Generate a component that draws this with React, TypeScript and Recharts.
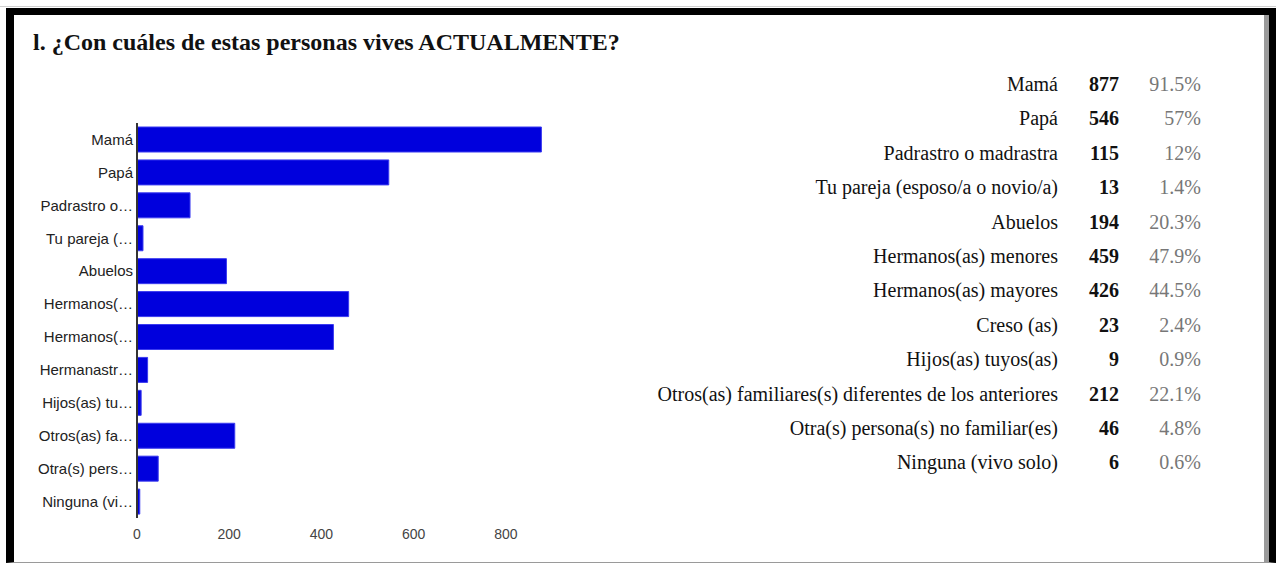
import React from 'react';
import { BarChart, Bar, XAxis, YAxis } from 'recharts';

// labels as the chart shows them (cut off), then the full ones of the table
const barLabels = [
    'Mamá', 'Papá', 'Padrastro o…', 'Tu pareja (…', 'Abuelos', 'Hermanos(…',
    'Hermanos(…', 'Hermanastr…', 'Hijos(as) tu…', 'Otros(as) fa…', 'Otra(s) pers…', 'Ninguna (vi…'
];

const tableLabels = [
    'Mamá', 'Papá', 'Padrastro o madrastra', 'Tu pareja (esposo/a o novio/a)', 'Abuelos',
    'Hermanos(as) menores', 'Hermanos(as) mayores', 'Creso (as)', 'Hijos(as) tuyos(as)',
    'Otros(as) familiares(s) diferentes de los anteriores', 'Otra(s) persona(s) no familiar(es)',
    'Ninguna (vivo solo)'
];

const counts = [877, 546, 115, 13, 194, 459, 426, 23, 9, 212, 46, 6];

const percents = ['91.5%', '57%', '12%', '1.4%', '20.3%', '47.9%', '44.5%', '2.4%', '0.9%', '22.1%', '4.8%', '0.6%'];

const xTicks = [0, 200, 400, 600, 800];

const chartData = barLabels.map((label, i) => ({ label, value: counts[i] }));

const SERIF = '"Liberation Serif", "Times New Roman", serif';
const SANS = '"Liberation Sans", Arial, sans-serif';

export default function App() {
    return (
        <div style={{ position: 'fixed', left: 0, top: 0, width: 1276, height: 565, background: '#fff', overflow: 'hidden' }}>
            {/* frame */}
            <div style={{ position: 'absolute', left: 0, top: 6, width: 1276, height: 1, background: '#d0d0d0' }} />
            <div
                style={{
                    position: 'absolute', left: 6, top: 8, width: 1270, height: 555, boxSizing: 'border-box',
                    borderLeft: '8px solid #000', borderTop: '7px solid #000', borderRight: '7px solid #000',
                    borderBottom: '1px solid #9a9a9a'
                }}
            />
            <div style={{ position: 'absolute', left: 1264, top: 15, width: 5, height: 548, background: '#9a9a9a' }} />

            <div style={{ position: 'absolute', left: 33, top: 29, fontFamily: SERIF, fontWeight: 'bold', fontSize: 24, color: '#111', whiteSpace: 'nowrap' }}>
                l. ¿Con cuáles de estas personas vives ACTUALMENTE?
            </div>

            <div style={{ position: 'absolute', left: 0, top: 0 }}>
                <BarChart
                    width={600}
                    height={560}
                    data={chartData}
                    layout="vertical"
                    margin={{ top: 123, right: 48, bottom: 12, left: 0 }}
                >
                    <XAxis
                        type="number"
                        domain={[0, 900]}
                        ticks={xTicks}
                        axisLine={false}
                        tickLine={false}
                        tickSize={6}
                        tickMargin={5}
                        height={30}
                        tick={{ fontSize: 14, fill: '#444', fontFamily: SANS }}
                    />
                    <YAxis
                        type="category"
                        dataKey="label"
                        width={137}
                        axisLine={{ stroke: '#333', strokeWidth: 2 }}
                        tickLine={false}
                        tickSize={0}
                        tickMargin={4}
                        interval={0}
                        tick={{ fontSize: 15, fill: '#222', fontFamily: SANS }}
                    />
                    <Bar dataKey="value" fill="#0000dd" stroke="#3b3bf0" strokeWidth={1} barSize={25} isAnimationActive={false} />
                </BarChart>
            </div>

            {/* table at right */}
            <div style={{ position: 'absolute', left: 600, top: 67, fontFamily: SERIF, fontSize: 20 }}>
                {tableLabels.map((label, i) => (
                    <div key={label} style={{ display: 'flex', height: 34.4, lineHeight: '34.4px', whiteSpace: 'nowrap' }}>
                        <div style={{ width: 458, textAlign: 'right', color: '#111' }}>{label}</div>
                        <div style={{ width: 61, textAlign: 'right', fontWeight: 'bold', color: '#111' }}>{counts[i]}</div>
                        <div style={{ width: 82, textAlign: 'right', color: '#777' }}>{percents[i]}</div>
                    </div>
                ))}
            </div>
        </div>
    );
}
